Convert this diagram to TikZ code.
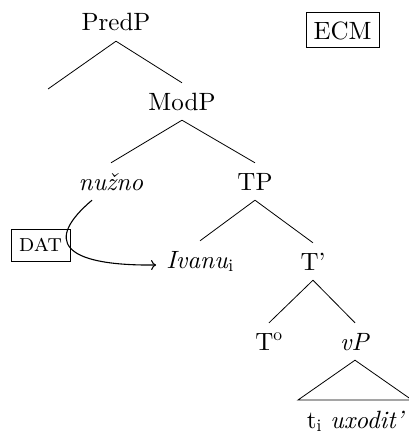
\documentclass[tikz,border=0pt]{standalone}
\usepackage{fontspec}
\setmainfont{lmroman10-regular.otf}[
  ItalicFont=lmroman10-italic.otf,
  BoldFont=lmroman10-bold.otf,
  SmallCapsFont=lmromancaps10-regular.otf]
\usetikzlibrary{arrows.meta}
\begin{document}
\begin{tikzpicture}[x=1pt,y=-1pt,
  every node/.style={font=\fontsize{25}{30}\selectfont},
  cat/.style={inner xsep=2pt,inner ysep=5pt,text height=22pt,text depth=5pt,anchor=base},
  branch/.style={line width=0.8pt},
  tagbox/.style={draw,line width=1pt,inner sep=0pt},
  link/.style={line width=1.1pt,-{To[length=5pt,width=10pt]}}]
\useasboundingbox (0,0) rectangle (409,436);

% tree nodes
\node[cat] (pred)  at (116,31)  {PredP};
\node[cat] (mod)   at (182,110) {ModP};
\node[cat] (nuz)   at (111,190) {\textit{nužno}};
\node[cat] (tp)    at (255,190) {TP};
\node[cat] (ivanu) at (200,268) {\textit{Ivanu}$_{\mathrm{i}}$};
\node[cat] (tbar)  at (313,270) {T'};
\node[cat] (tnull) at (269,350) {T\textsuperscript{o}};
\node[cat] (vp)    at (355,350) {\textit{vP}};
\node[cat] (leaf)  at (356,428) {t$_{\mathrm{i}}$ \textit{uxodit'}};
\coordinate (empty) at (48,89);

% labels in boxes
\node[tagbox,minimum width=73pt,minimum height=35pt] (ecm) at (342.5,30.5) {ECM};
\node[tagbox,minimum width=59pt,minimum height=32pt] (dat) at (40.5,245) {\textsc{dat}};

% branches
\draw[branch] (pred.south) -- (empty);
\draw[branch] (pred.south) -- (mod.north);
\draw[branch] (mod.south) -- (nuz.north);
\draw[branch] (mod.south) -- (tp.north);
\draw[branch] (tp.south) -- (ivanu.north);
\draw[branch] (tp.south) -- (tbar.north);
\draw[branch] (tbar.south) -- (tnull.north);
\draw[branch] (tbar.south) -- (vp.north);

% roof over the vP
\coordinate (roofL) at (298,400);
\coordinate (roofR) at (412,400);
\draw[branch,line join=miter] (vp.south) -- (roofL) -- (roofR) -- cycle;

% dative link from the modal to the subject
\coordinate (c1) at (45,240);
\coordinate (c2) at (60,266);
\draw[link] ([xshift=-19pt]nuz.south) .. controls (c1) and (c2) .. ([xshift=-8pt,yshift=3pt]ivanu.base west);
\end{tikzpicture}
\end{document}
